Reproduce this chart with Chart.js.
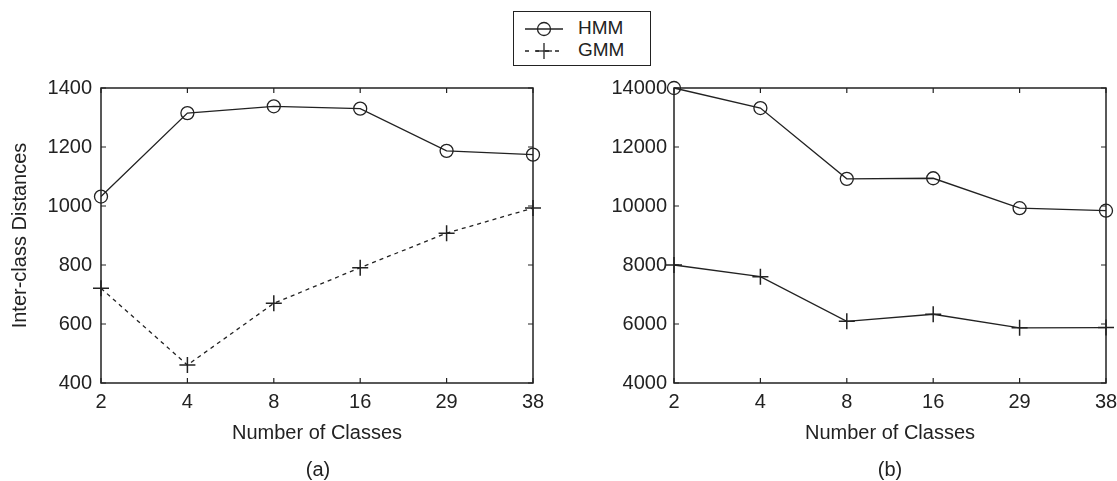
<!DOCTYPE html>
<html>
<head>
<meta charset="utf-8">
<script src="https://cdn.jsdelivr.net/npm/chart.js@4/dist/chart.umd.min.js"></script>
<style>
  body { margin: 0; width: 1117px; height: 481px; overflow: hidden; background: #fff; font-family: "Liberation Sans", Arial, sans-serif; color: #222; position: relative; }
  .panel { position: absolute; top: 0; height: 481px; }
  #left { left: 0; width: 560px; }
  #right { left: 560px; width: 570px; }
  .cap { position: absolute; top: 458px; font-size: 20px; width: 60px; text-align: center; }
  #legend { position: absolute; left: 513px; top: 11px; width: 136px; height: 53px; border: 1.5px solid #222; background: #fff; font-size: 19px; }
  #legend div { position: absolute; left: 10px; height: 22px; line-height: 22px; }
  #legend svg { vertical-align: middle; margin-right: 14px; }
</style>
</head>
<body>
<div class="panel" id="left"><canvas id="chartA"></canvas></div>
<div class="panel" id="right"><canvas id="chartB"></canvas></div>
<div class="cap" style="left:288px">(a)</div>
<div class="cap" style="left:860px">(b)</div>
<div id="legend">
  <div style="top:5px"><svg width="40" height="16"><line x1="1" y1="8" x2="39" y2="8" stroke="#222" stroke-width="1.3"/><circle cx="20" cy="8" r="6.5" fill="none" stroke="#222" stroke-width="1.3"/></svg>HMM</div>
  <div style="top:27px"><svg width="40" height="16"><line x1="1" y1="8" x2="39" y2="8" stroke="#222" stroke-width="1.3" stroke-dasharray="4 6"/><line x1="12" y1="8" x2="28" y2="8" stroke="#222" stroke-width="1.3"/><line x1="20" y1="0" x2="20" y2="16" stroke="#222" stroke-width="1.3"/></svg>GMM</div>
</div>
<script>
const classes = ["2", "4", "8", "16", "29", "38"];

// panel (a)
const hmmA = [1032, 1315, 1338, 1330, 1187, 1174];
const gmmA = [721, 461, 670, 791, 908, 993];
const ticksA = [400, 600, 800, 1000, 1200, 1400];

// panel (b)
const hmmB = [14000, 13320, 10920, 10940, 9925, 9840];
const gmmB = [8000, 7605, 6090, 6330, 5870, 5880];
const ticksB = [4000, 6000, 8000, 10000, 12000, 14000];

const ink = "#222";
const font = { family: "'Liberation Sans', Arial, sans-serif", size: 20 };

// matlab style box with inward ticks
const boxTicks = {
    id: "boxTicks",
    afterDraw(chart) {
        const ctx = chart.ctx, a = chart.chartArea;
        const x = chart.scales.x, y = chart.scales.y;
        ctx.save();
        ctx.strokeStyle = ink;
        ctx.lineWidth = 1.5;
        ctx.strokeRect(a.left, a.top, a.right - a.left, a.bottom - a.top);
        ctx.lineWidth = 1.2;
        ctx.beginPath();
        x.ticks.forEach((t, i) => {
            let px = x.getPixelForTick(i);
            ctx.moveTo(px, a.bottom); ctx.lineTo(px, a.bottom - 5);
            ctx.moveTo(px, a.top); ctx.lineTo(px, a.top + 5);
        });
        y.ticks.forEach((t, i) => {
            let py = y.getPixelForTick(i);
            ctx.moveTo(a.left, py); ctx.lineTo(a.left + 5, py);
            ctx.moveTo(a.right, py); ctx.lineTo(a.right - 5, py);
        });
        ctx.stroke();
        ctx.restore();
    }
};

function makeChart(id, hmm, gmm, yTicks, opts) {
    return new Chart(document.getElementById(id), {
        type: "line",
        data: {
            labels: classes,
            datasets: [{
                label: "HMM",
                data: hmm,
                borderColor: ink,
                borderWidth: 1.3,
                pointStyle: "circle",
                pointRadius: 6.5,
                pointBorderWidth: 1.3,
                pointBackgroundColor: "transparent",
                pointBorderColor: ink,
                tension: 0,
                clip: false
            }, {
                label: "GMM",
                data: gmm,
                borderColor: ink,
                borderWidth: 1.3,
                borderDash: opts.dash,
                pointStyle: "cross",
                pointRadius: 8,
                pointBorderWidth: 1.5,
                pointBorderColor: ink,
                tension: 0,
                clip: false
            }]
        },
        options: {
            responsive: false,
            animation: false,
            devicePixelRatio: 1,
            layout: { padding: { left: 0, top: 88, right: opts.padRight, bottom: 28 } },
            plugins: { legend: { display: false }, tooltip: { enabled: false } },
            scales: {
                x: {
                    type: "category",
                    offset: false,
                    grid: { display: false, drawTicks: false },
                    border: { display: false },
                    ticks: { color: ink, font: font, padding: 7, maxRotation: 0, autoSkip: false },
                    title: { display: true, text: "Number of Classes", color: ink, font: font, padding: { top: 0, bottom: 8 } },
                    afterFit: s => { s.height = 70; }
                },
                y: {
                    min: yTicks[0],
                    max: yTicks[yTicks.length - 1],
                    afterBuildTicks: s => { s.ticks = yTicks.map(v => ({ value: v })); },
                    grid: { display: false, drawTicks: false },
                    border: { display: false },
                    ticks: { color: ink, font: font, padding: opts.tickPad, callback: v => String(v) },
                    title: { display: opts.yTitle, text: "Inter-class Distances", color: ink, font: font, padding: { top: 8, bottom: 0 } },
                    afterFit: s => { s.width = opts.yWidth; }
                }
            }
        },
        plugins: [boxTicks]
    });
}

const cA = document.getElementById("chartA");
cA.width = 560; cA.height = 481;
const cB = document.getElementById("chartB");
cB.width = 570; cB.height = 481;

makeChart("chartA", hmmA, gmmA, ticksA, { dash: [4, 4], padRight: 27, yWidth: 101, tickPad: 9, yTitle: true });
makeChart("chartB", hmmB, gmmB, ticksB, { dash: [], padRight: 24, yWidth: 114, tickPad: 7, yTitle: false });
</script>
</body>
</html>
